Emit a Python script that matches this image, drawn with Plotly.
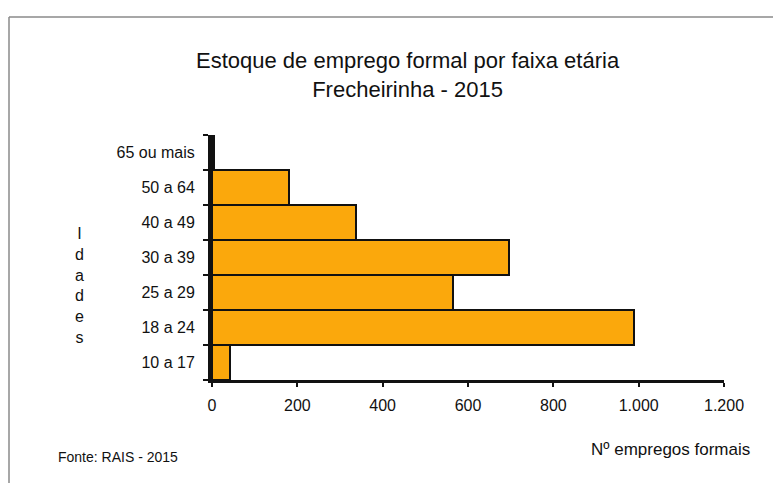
import plotly.graph_objects as go

faixas = ["10 a 17", "18 a 24", "25 a 29", "30 a 39", "40 a 49", "50 a 64", "65 ou mais"]
empregos = [42, 988, 566, 695, 338, 181, 4]
x_ticks = [0, 200, 400, 600, 800, 1000, 1200]

# the page body adds an 8px margin; build the figure to fill the rest
OFF = 8
W, H = 781 - OFF, 483 - OFF
# plot area in target-page pixels
L, R, T, B = 212, 724, 135, 380

def px(x):
    return (x - L) / (R - L)

def py(y):
    return (B - y) / (B - T)

fig = go.Figure(go.Bar(
    y=faixas, x=empregos, orientation="h",
    marker=dict(color="#FBA80C", line=dict(color="#111111", width=2)),
))

fig.update_layout(
    width=W, height=H,
    margin=dict(l=L - OFF, r=781 - R, t=T - OFF, b=483 - B),
    paper_bgcolor="white", plot_bgcolor="white",
    bargap=0, showlegend=False,
    separators=",.",
    font=dict(family="Arial, Liberation Sans, sans-serif", color="#111111"),
    xaxis=dict(
        range=[0, 1200], tickvals=x_ticks, tickformat=",d",
        showgrid=False, zeroline=False,
        showline=True, linecolor="#111111", linewidth=3,
        ticks="outside", ticklen=4, tickwidth=1.5, tickcolor="#111111",
        tickfont=dict(size=16), ticklabelstandoff=5, fixedrange=True,
    ),
    yaxis=dict(
        type="category", categoryorder="array", categoryarray=faixas,
        range=[-0.5, 6.5], tickson="boundaries",
        showgrid=False, zeroline=False,
        showline=True, linecolor="#111111", linewidth=4,
        ticks="outside", ticklen=5, tickwidth=1.5, tickcolor="#111111",
        tickfont=dict(size=16), ticklabelstandoff=10, fixedrange=True,
    ),
    shapes=[
        dict(type="line", xref="paper", yref="paper",
             x0=px(9), x1=px(781), y0=py(17), y1=py(17),
             line=dict(color="#8a8a8a", width=1.5)),
        dict(type="line", xref="paper", yref="paper",
             x0=px(9), x1=px(9), y0=py(17), y1=py(483),
             line=dict(color="#8a8a8a", width=1.5)),
    ],
    annotations=[
        dict(text="Estoque de emprego formal por faixa etária<br>Frecheirinha - 2015",
             xref="paper", yref="paper", x=px(408), y=py(75),
             xanchor="center", yanchor="middle", showarrow=False,
             font=dict(size=22)),
        dict(text="I<br>d<br>a<br>d<br>e<br>s",
             xref="paper", yref="paper", x=px(79), y=py(285),
             xanchor="center", yanchor="middle", showarrow=False,
             font=dict(size=16)),
        dict(text="Nº empregos formais",
             xref="paper", yref="paper", x=px(752), y=py(450),
             xanchor="right", yanchor="middle", showarrow=False,
             font=dict(size=17)),
        dict(text="Fonte: RAIS - 2015",
             xref="paper", yref="paper", x=px(56), y=py(457),
             xanchor="left", yanchor="middle", showarrow=False,
             font=dict(size=14)),
    ],
)

fig.write_html("out.html")
